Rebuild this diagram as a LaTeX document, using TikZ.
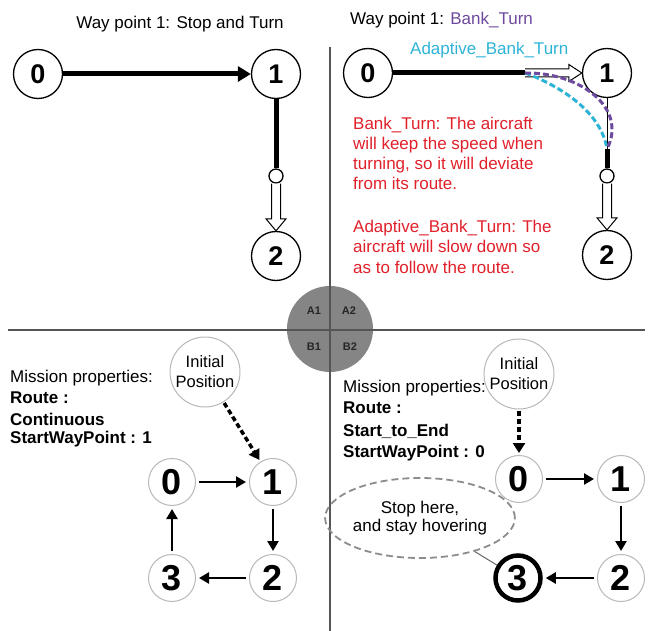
\documentclass[tikz,border=0pt]{standalone}
\usepackage{fontspec}
\setmainfont{Liberation Sans}
\usetikzlibrary{arrows.meta,calc,shapes.geometric}
\definecolor{bankpurple}{HTML}{6E4A9E}
\definecolor{adacyan}{HTML}{2DB3D6}
\definecolor{notered}{HTML}{E0202A}
\definecolor{divgray}{HTML}{555555}
\definecolor{diskgray}{HTML}{858585}
\begin{document}
\begin{tikzpicture}[x=1pt,y=-1pt,
  wptop/.style={circle,draw,line width=1.3pt,fill=white,minimum size=49pt,inner sep=0pt,
    font=\fontsize{27}{27}\bfseries\selectfont},
  wpbot/.style={circle,draw=black!28,line width=1pt,fill=white,minimum size=47pt,inner sep=0pt,
    font=\fontsize{36}{36}\bfseries\selectfont},
  wpend/.style={wpbot,draw=black,line width=4.5pt,minimum size=45pt},
  initpos/.style={circle,draw=black!28,line width=1pt,fill=white,minimum size=70pt,inner sep=0pt,
    align=center,font=\fontsize{16.5}{20}\selectfont},
  knob/.style={circle,draw,line width=1.3pt,fill=white,minimum size=14pt,inner sep=0pt},
  txt/.style={anchor=base west,inner sep=0pt,font=\fontsize{17}{20}\selectfont},
  btxt/.style={txt,font=\fontsize{17}{20}\bfseries\selectfont},
  redtxt/.style={txt,text=notered},
  quad/.style={inner sep=0pt,font=\fontsize{11}{11}\bfseries\selectfont,text=black!85},
  divider/.style={draw=divgray,line width=1.5pt},
  thickline/.style={line width=5pt},
  thickarrow/.style={line width=5pt,-{Triangle[length=13pt,width=15pt]}},
  steparrow/.style={line width=2.6pt,-{Triangle[length=10pt,width=11pt]},shorten >=3pt,shorten <=3pt},
  startarrow/.style={line width=3.5pt,dash pattern=on 5pt off 3pt,-{Triangle[length=10pt,width=12pt]},shorten >=2pt,shorten <=1pt},
  hollow/.style={draw,line width=1pt,fill=white,line join=miter}
]
\useasboundingbox (0,0) rectangle (656,631);

% ---- centre disk and dividers
\fill[diskgray] (330,329) circle (43);
\draw[divider] (330,47) -- (330,631);
\draw[divider] (8,330) -- (645,330);
\node[quad] (qa1) at (314,311) {A1};
\node[quad] (qa2) at (349,311) {A2};
\node[quad] (qb1) at (314,347) {B1};
\node[quad] (qb2) at (350,347) {B2};

% ---- A1: stop and turn
\node[txt,anchor=base] (t1) at (180,29) {Way point 1: Stop and Turn};
\node[wptop] (a0) at (38,74) {0};
\node[wptop] (a1) at (276,74) {1};
\node[wptop] (a2) at (276,256) {2};
\node[knob] (ak) at (276,176) {};
\draw[thickarrow] (a0) -- (a1);
\draw[thickline] (a1.south) -- (ak.north);
\coordinate (akb) at (ak.south);
\coordinate (a2t) at (a2.north);
\draw[hollow] ($(akb)+(-4.5,0)$) -- ($(a2t)+(-4.5,-12)$) -- ($(a2t)+(-10,-12)$) -- (a2t)
   -- ($(a2t)+(10,-12)$) -- ($(a2t)+(4.5,-12)$) -- ($(akb)+(4.5,0)$);

% ---- A2: bank turn
\node[txt] (t2) at (350,25) {Way point 1: \textcolor{bankpurple}{Bank\_Turn}};
\node[txt,text=adacyan] (t3) at (410,55) {Adaptive\_Bank\_Turn};
\node[wptop] (b0) at (368,73) {0};
\node[wptop] (b1) at (607,73) {1};
\node[wptop] (b2) at (607,255) {2};
\node[knob] (bk) at (607,176) {};
\coordinate (bt) at (525,73);
\coordinate (bv) at (607,149);
\draw[thickline] (b0.east) -- (bt);
\coordinate (b1w) at (b1.west);
\draw[hollow] ($(bt)+(0,-4)$) -- ($(b1w)+(-13,-4)$) -- ($(b1w)+(-13,-8.5)$) -- (b1w)
   -- ($(b1w)+(-13,8.5)$) -- ($(b1w)+(-13,4)$) -- ($(bt)+(0,4)$);
\draw[line width=1pt] (b1.south) -- (bv);
\draw[thickline] (bv) -- (bk.north);
\coordinate (bkb) at (bk.south);
\coordinate (b2t) at (b2.north);
\draw[hollow] ($(bkb)+(-4.5,0)$) -- ($(b2t)+(-4.5,-12)$) -- ($(b2t)+(-10,-12)$) -- (b2t)
   -- ($(b2t)+(10,-12)$) -- ($(b2t)+(4.5,-12)$) -- ($(bkb)+(4.5,0)$);
\draw[adacyan,line width=3pt,dash pattern=on 6pt off 3pt] (bt) .. controls (545,80) and (600,105) .. (bv);
\draw[bankpurple,line width=3pt,dash pattern=on 6pt off 3pt] (bt) .. controls (580,72) and (628,108) .. (bv);

\node[redtxt] (r1) at (353,130) {Bank\_Turn: The aircraft};
\node[redtxt] (r2) at (353,150) {will keep the speed when};
\node[redtxt] (r3) at (353,170) {turning, so it will deviate};
\node[redtxt] (r4) at (353,190) {from its route.};
\node[redtxt] (r5) at (353,233) {Adaptive\_Bank\_Turn: The};
\node[redtxt] (r6) at (353,253) {aircraft will slow down so};
\node[redtxt] (r7) at (353,273) {as to follow the route.};

% ---- B1: continuous
\node[txt] (m1) at (10,382) {Mission properties:};
\node[btxt] (m2) at (10,403) {Route :};
\node[btxt] (m3) at (10,425) {Continuous};
\node[btxt] (m4) at (10,443) {StartWayPoint : 1};
\node[initpos] (ip1) at (205,372) {Initial\\Position};
\node[wpbot] (c0) at (172,482) {0};
\node[wpbot] (c1) at (273,482) {1};
\node[wpbot] (c2) at (273,578) {2};
\node[wpbot] (c3) at (172,578) {3};
\draw[startarrow] (ip1) -- (c1);
\draw[steparrow] (c0) -- (c1);
\draw[steparrow] (c1) -- (c2);
\draw[steparrow] (c2) -- (c3);
\draw[steparrow] (c3) -- (c0);

% ---- B2: start to end
\node[initpos] (ip2) at (519,374) {Initial\\Position};
\node[txt] (n1) at (343,392) {Mission properties:};
\node[btxt] (n2) at (343,413) {Route :};
\node[btxt] (n3) at (343,436) {Start\_to\_End};
\node[btxt] (n4) at (343,457) {StartWayPoint : 0};
\node[wpbot] (d0) at (519,479) {0};
\node[wpbot] (d1) at (621,479) {1};
\node[wpbot] (d2) at (621,578) {2};
\node[wpend] (d3) at (518,578) {3};
\draw[startarrow] (ip2) -- (d0);
\draw[steparrow] (d0) -- (d1);
\draw[steparrow] (d1) -- (d2);
\draw[steparrow] (d2) -- (d3);
\node[ellipse,draw=black!45,line width=1.8pt,dash pattern=on 7pt off 4pt,minimum width=154pt,minimum height=80pt,
  inner sep=0pt,align=center,font=\fontsize{17}{18}\selectfont] (ell) at (420,518) {Stop here,\\and stay hovering};
\draw[black!60,line width=1pt] (ell) -- (d3);
\end{tikzpicture}
\end{document}
